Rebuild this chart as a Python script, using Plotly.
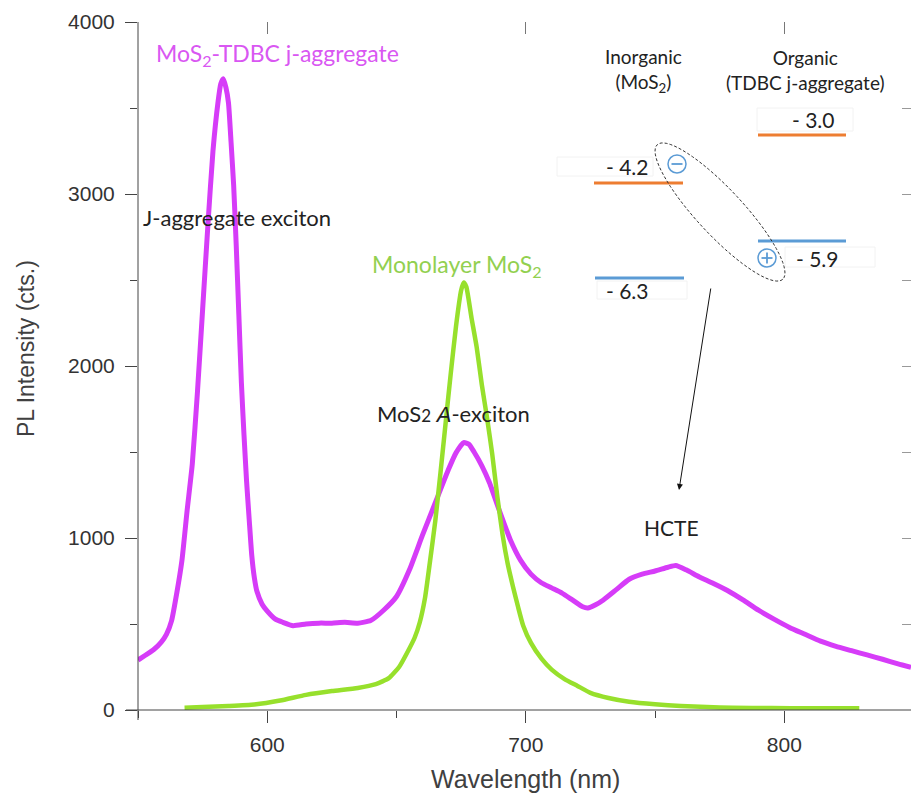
import math
import plotly.graph_objects as go

# ---------------- data ----------------
mag_wl = [550, 553, 556, 559, 561, 563, 565, 567, 569, 571, 573, 575, 577, 579, 581, 582, 583,
          584, 585, 586, 587, 588, 589, 590, 591, 592, 593, 594, 595, 596, 598, 600, 603, 606,
          610, 615, 620, 625, 630, 635, 640, 645, 650, 655, 660, 665, 670, 673, 676, 678, 680,
          683, 686, 690, 694, 698, 702, 706, 710, 714, 718, 722, 724, 727, 730, 735, 740, 745,
          750, 755, 758, 762, 767, 772, 778, 784, 790, 796, 802, 808, 814, 820, 826, 832, 838,
          844, 849]
mag_int = [290, 320, 350, 395, 440, 520, 680, 870, 1160, 1430, 1850, 2330, 2810, 3250, 3540, 3640, 3670,
           3620, 3530, 3300, 3050, 2700, 2300, 1900, 1600, 1330, 1110, 900, 770, 690, 615, 575, 530, 510,
           490, 500, 505, 505, 510, 505, 520, 580, 660, 815, 1015, 1205, 1395, 1495, 1555, 1545, 1500,
           1420, 1320, 1150, 990, 870, 790, 740, 710, 680, 640, 600, 593, 612, 640, 700, 760, 790,
           808, 830, 840, 815, 775, 740, 695, 640, 580, 528, 480, 440, 400, 370, 345, 320, 295,
           268, 248]

gr_wl = [568, 575, 585, 595, 605, 615, 625, 635, 642, 647, 651, 654, 657, 659, 661, 663, 665, 667,
         669, 671, 673, 675, 676, 677, 679, 681, 683, 685, 687, 689, 691, 693, 695, 697, 699, 702,
         706, 710, 715, 720, 725, 732, 740, 750, 760, 770, 780, 795, 810, 829]
gr_int = [13, 17, 23, 32, 55, 88, 110, 128, 150, 185, 250, 330, 420, 510, 650, 870, 1100, 1380,
          1670, 1960, 2230, 2440, 2485, 2460, 2280, 2110, 1890, 1700, 1490, 1240, 1020, 850, 720, 600, 490, 390,
          300, 235, 180, 140, 100, 70, 48, 33, 23, 17, 13, 11, 10, 10]

x_ticks = [600, 700, 800]
y_ticks = [0, 1000, 2000, 3000, 4000]

MAG = "#D63CF8"
GRN = "#97E02C"
ORANGE = "#ED7D31"
BLUE = "#5B9BD5"

W, H = 911, 795
L, T, B = 138, 22, 710
PW, PH = W - L, B - T


def PX(x):
    return (x - L) / PW


def PY(y):
    return (B - y) / PH


fig = go.Figure()
fig.add_trace(go.Scatter(x=mag_wl, y=mag_int, mode="lines",
                         line=dict(color=MAG, width=5, shape="spline", smoothing=0.5),
                         hoverinfo="skip", showlegend=False))
fig.add_trace(go.Scatter(x=gr_wl, y=gr_int, mode="lines",
                         line=dict(color=GRN, width=4.5, shape="spline", smoothing=0.5),
                         hoverinfo="skip", showlegend=False))
# dummy trace to create the mirrored (top/right) tick axes
fig.add_trace(go.Scatter(x=[None], y=[None], xaxis="x2", yaxis="y2",
                         showlegend=False, hoverinfo="skip"))

tickfont = dict(family="Liberation Sans, Arial, sans-serif", size=21, color="#333333")
afont = "Lato, Open Sans, sans-serif"

fig.update_layout(
    width=W, height=H,
    margin=dict(l=L, r=W - L - PW, t=T, b=H - B),
    paper_bgcolor="white", plot_bgcolor="white",
    showlegend=False,
    xaxis=dict(range=[550, 849], tickvals=x_ticks, ticks="outside", ticklen=12,
               tickcolor="#444", tickwidth=1, showline=False, showgrid=False, zeroline=False,
               tickfont=tickfont, ticklabelstandoff=4,
               minor=dict(tick0=550, dtick=50, ticks="outside", ticklen=7, tickcolor="#444")),
    yaxis=dict(range=[0, 4000], tickvals=y_ticks, ticks="outside", ticklen=12,
               tickcolor="#444", tickwidth=1, showline=False, showgrid=False, zeroline=False,
               tickfont=tickfont, ticklabelstandoff=6,
               minor=dict(tick0=0, dtick=500, ticks="outside", ticklen=7, tickcolor="#444")),
    xaxis2=dict(overlaying="x", side="top", anchor="y2", range=[550, 849], tickvals=x_ticks,
                ticks="inside", ticklen=12, tickcolor="#777", showticklabels=False,
                showline=False, showgrid=False, zeroline=False),
    yaxis2=dict(overlaying="y", side="right", anchor="x2", range=[0, 4000], dtick=500,
                ticks="inside", ticklen=9, tickcolor="#999", showticklabels=False,
                showline=False, showgrid=False, zeroline=False),
)

shapes = []
# axis lines (crossing at the origin like the reference)
shapes.append(dict(type="line", xref="paper", yref="paper", x0=PX(126), x1=1, y0=0, y1=0,
                   line=dict(color="#444", width=1)))
shapes.append(dict(type="line", xref="paper", yref="paper", x0=0, x1=0, y0=PY(720), y1=1,
                   line=dict(color="#444", width=1)))

# faint text boxes behind energy labels
for (x0, y0, x1, y1) in [(757, 108, 853, 131), (557, 157, 653, 176), (785, 247, 875, 267), (597, 281, 687, 299)]:
    shapes.append(dict(type="rect", xref="paper", yref="paper", x0=PX(x0), x1=PX(x1),
                       y0=PY(y1), y1=PY(y0), line=dict(color="#f2f2f2", width=1),
                       fillcolor="white", layer="above"))

# energy levels
for (x0, x1, y, c) in [(758, 846, 135, ORANGE), (594, 683, 183, ORANGE),
                       (758, 846, 241, BLUE), (595, 684, 278, BLUE)]:
    shapes.append(dict(type="line", xref="paper", yref="paper", x0=PX(x0), x1=PX(x1),
                       y0=PY(y), y1=PY(y), line=dict(color=c, width=3), layer="above"))

# dashed ellipse
cx, cy, a, b, th = 720, 212, 92, 23, math.radians(47)
pts = []
for i in range(0, 73):
    t = 2 * math.pi * i / 72
    x = cx + a * math.cos(th) * math.cos(t) - b * math.sin(th) * math.sin(t)
    y = cy + a * math.sin(th) * math.cos(t) + b * math.cos(th) * math.sin(t)
    pts.append((PX(x), PY(y)))
path = "M " + " L ".join(f"{p[0]:.5f},{p[1]:.5f}" for p in pts) + " Z"
shapes.append(dict(type="path", xref="paper", yref="paper", path=path,
                   line=dict(color="#333", width=1, dash="3px,2px"), layer="above"))

# charge circles
for (ccx, ccy, plus) in [(677, 164, False), (767, 258, True)]:
    r = 9
    shapes.append(dict(type="circle", xref="paper", yref="paper", x0=PX(ccx - r), x1=PX(ccx + r),
                       y0=PY(ccy + r), y1=PY(ccy - r), line=dict(color=BLUE, width=1.5),
                       fillcolor="white", layer="above"))
    shapes.append(dict(type="line", xref="paper", yref="paper", x0=PX(ccx - 5.5), x1=PX(ccx + 5.5),
                       y0=PY(ccy), y1=PY(ccy), line=dict(color=BLUE, width=1.8), layer="above"))
    if plus:
        shapes.append(dict(type="line", xref="paper", yref="paper", x0=PX(ccx), x1=PX(ccx),
                           y0=PY(ccy + 5.5), y1=PY(ccy - 5.5), line=dict(color=BLUE, width=1.8),
                           layer="above"))
fig.update_layout(shapes=shapes)

ann = []


def txt(text, x, y, size, color="#222222", xanchor="center", family=afont):
    ann.append(dict(text=text, xref="paper", yref="paper", x=PX(x), y=PY(y), showarrow=False,
                    xanchor=xanchor, yanchor="middle", font=dict(family=family, size=size, color=color)))


txt("MoS<sub>2</sub>-TDBC j-aggregate", 277, 55, 23, "#D957F2")
txt("J-aggregate exciton", 141, 218, 22, "#222222", xanchor="left")
txt("Monolayer MoS<sub>2</sub>", 456, 265, 23, "#92D050")
txt("MoS<span style='font-size:17px'>2</span> "
    "<i><span style='font-family:Liberation Sans, Arial, sans-serif'>A</span></i>-exciton",
    453, 413, 22)
txt("HCTE", 671, 527, 21)
txt("Inorganic<br>(MoS<sub>2</sub>)", 643, 70, 19)
txt("Organic<br>(TDBC j-aggregate)", 805, 70, 19)
txt("- 3.0", 813, 119, 21)
txt("- 4.2", 627, 166, 21)
txt("- 5.9", 817, 258, 21)
txt("- 6.3", 627, 290, 21)

# axis titles
ann.append(dict(text="Wavelength (nm)", xref="paper", yref="paper", x=PX(525), y=PY(779),
                showarrow=False, xanchor="center", yanchor="middle",
                font=dict(family="Liberation Sans, Arial, sans-serif", size=25, color="#404040")))
ann.append(dict(text="PL Intensity (cts.)", xref="paper", yref="paper", x=PX(26), y=PY(349),
                showarrow=False, xanchor="center", yanchor="middle", textangle=-90,
                font=dict(family="Liberation Sans, Arial, sans-serif", size=23, color="#404040")))

# arrow
ann.append(dict(text="", xref="paper", yref="paper", x=PX(679), y=PY(490),
                ax=32, ay=-203, axref="pixel", ayref="pixel", showarrow=True,
                arrowhead=2, arrowsize=1.2, arrowwidth=1, arrowcolor="#111"))

fig.update_layout(annotations=ann)

fig.write_html("out.html")
